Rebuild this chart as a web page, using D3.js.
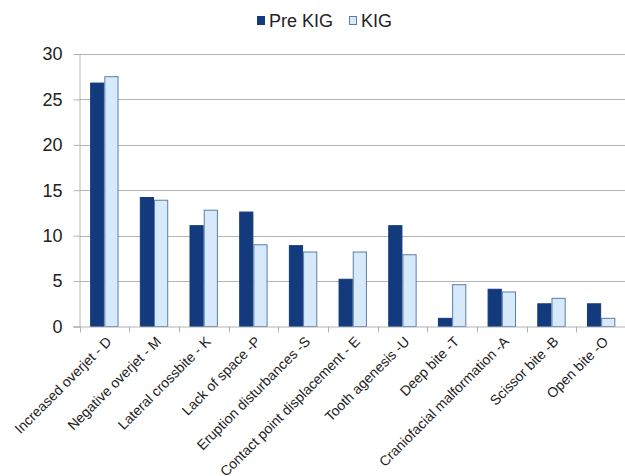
<!DOCTYPE html>
<html>
<head>
<meta charset="utf-8">
<script src="https://cdn.jsdelivr.net/npm/d3@7"></script>
<style>
  html, body { margin: 0; padding: 0; background: #fff; }
  svg { display: block; font-family: Arial, "Liberation Sans", sans-serif; }
</style>
</head>
<body>
<svg id="chart" width="625" height="476"></svg>
<script>
// Malocclusion categories and percentage of cases per group
const categories = [
  "Increased overjet - D",
  "Negative overjet - M",
  "Lateral crossbite - K",
  "Lack of space -P",
  "Eruption disturbances -S",
  "Contact point displacement - E",
  "Tooth agenesis -U",
  "Deep bite -T",
  "Craniofacial malformation -A",
  "Scissor bite -B",
  "Open bite -O"
];
const seriesNames = ["Pre KIG", "KIG"];
const preKIG = [26.8, 14.2, 11.1, 12.6, 8.9, 5.2, 11.1, 0.9, 4.1, 2.5, 2.5];
const kig    = [27.5, 13.9, 12.8, 9.0, 8.2, 8.2, 7.9, 4.6, 3.8, 3.1, 0.9];
const yTicks = [0, 5, 10, 15, 20, 25, 30];

const fills   = ["#133a7c", "#d6eafc"];
const strokes = ["#133a7c", "#5b7ca6"];

const svg = d3.select("#chart");
const margin = { left: 79.5, right: -1, top: 54, bottom: 149.5 };
const W = 625, H = 476;

const x = d3.scaleBand()
  .domain(categories)
  .range([margin.left, W - margin.right])
  .paddingInner(0.75 / 1.75)
  .paddingOuter(0.375 / 1.75);
// full-width category bands, used for the boundary ticks
const xCat = d3.scaleBand().domain(categories).range([margin.left, W - margin.right]);
const xs = d3.scaleBand().domain(seriesNames).range([0, x.bandwidth()]);
const y = d3.scaleLinear().domain([0, 30]).range([H - margin.bottom, margin.top]);

// gridlines
svg.append("g")
  .selectAll("line")
  .data(yTicks.filter(d => d > 0))
  .join("line")
  .attr("x1", margin.left).attr("x2", W)
  .attr("y1", d => Math.round(y(d)) + 0.5).attr("y2", d => Math.round(y(d)) + 0.5)
  .attr("stroke", "#b4b4b4").attr("stroke-width", 1);

// y axis
const yAxis = svg.append("g")
  .attr("transform", `translate(${margin.left},0)`)
  .call(d3.axisLeft(y).tickValues(yTicks).tickSize(6).tickPadding(11));
yAxis.select(".domain").attr("stroke", "#b4b4b4");
yAxis.selectAll(".tick line").attr("stroke", "#b4b4b4");
yAxis.selectAll(".tick text")
  .attr("font-size", 18).attr("fill", "#222")
  .attr("font-family", "Arial, 'Liberation Sans', sans-serif");

// bars
const groups = svg.append("g")
  .selectAll("g")
  .data(categories.map((c, i) => ({ c, vals: [preKIG[i], kig[i]] })))
  .join("g")
  .attr("transform", d => `translate(${x(d.c)},0)`);

groups.selectAll("rect")
  .data(d => d.vals.map((v, j) => ({ v, j })))
  .join("rect")
  .attr("x", d => xs(seriesNames[d.j]) + 0.5)
  .attr("width", xs.bandwidth() - 1)
  .attr("y", d => y(d.v))
  .attr("height", d => y(0) - y(d.v))
  .attr("fill", d => fills[d.j])
  .attr("stroke", d => strokes[d.j])
  .attr("stroke-width", 1);

// x axis baseline with category boundary ticks
const xAxisG = svg.append("g");
xAxisG.append("line")
  .attr("x1", margin.left - 6).attr("x2", W)
  .attr("y1", y(0) + 0.5).attr("y2", y(0) + 0.5)
  .attr("stroke", "#b4b4b4");
xAxisG.selectAll("line.tk")
  .data(categories)
  .join("line")
  .attr("class", "tk")
  .attr("x1", d => Math.round(xCat(d)) + 0.5).attr("x2", d => Math.round(xCat(d)) + 0.5)
  .attr("y1", y(0)).attr("y2", y(0) + 6)
  .attr("stroke", "#b4b4b4");

// rotated category labels
xAxisG.selectAll("text")
  .data(categories)
  .join("text")
  .attr("transform", d => `translate(${x(d) + x.bandwidth() / 2 + 8},${y(0) + 16}) rotate(-45)`)
  .attr("text-anchor", "end")
  .attr("font-size", 14)
  .attr("fill", "#222")
  .text(d => d);

// legend
const legend = svg.append("g").attr("transform", "translate(257,20)");
const legItems = [
  { name: seriesNames[0], x: 0 },
  { name: seriesNames[1], x: 92 }
];
legItems.forEach((it, j) => {
  legend.append("rect")
    .attr("x", it.x + 0.5).attr("y", -3.5)
    .attr("width", 7).attr("height", 8)
    .attr("fill", fills[j]).attr("stroke", strokes[j]);
  legend.append("text")
    .attr("x", it.x + 12).attr("y", 6.5)
    .attr("font-size", 18).attr("fill", "#222")
    .text(it.name);
});
</script>
</body>
</html>
